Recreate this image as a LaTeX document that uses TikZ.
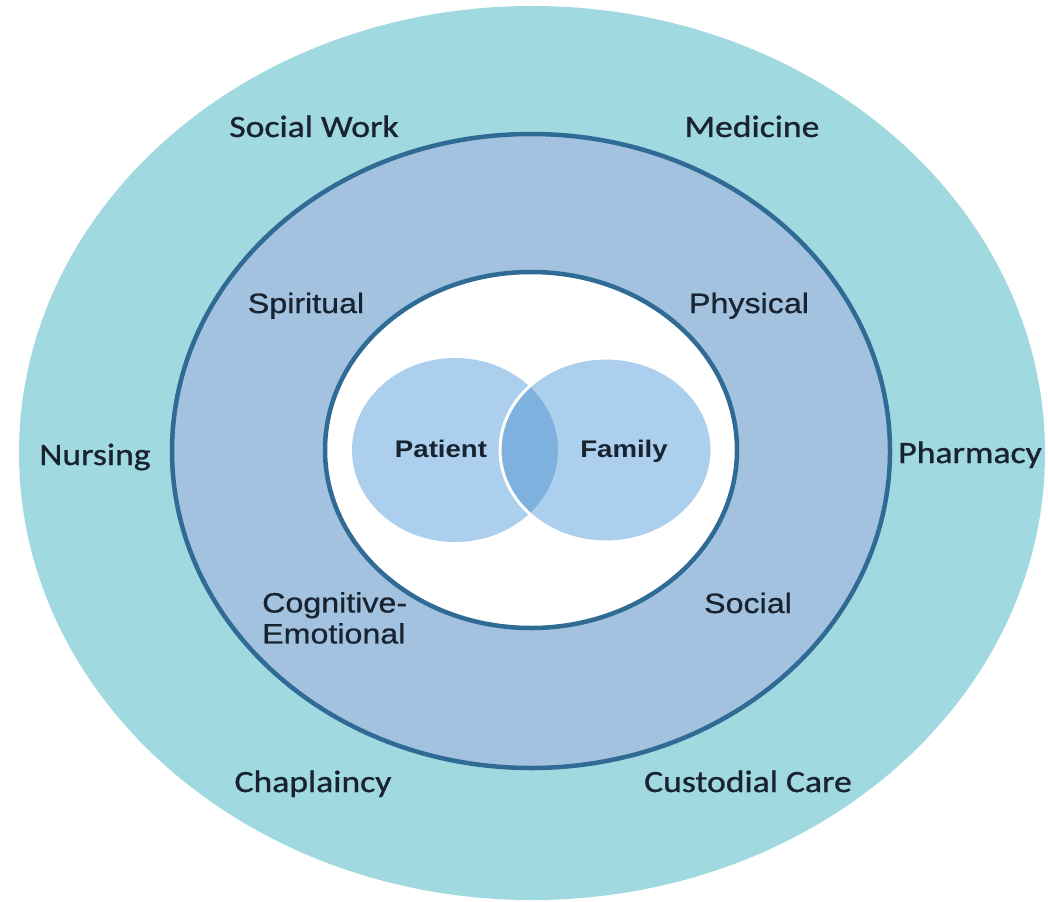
\documentclass[tikz,border=0pt]{standalone}
\usepackage{fontspec}
\newfontfamily\ringfont[FakeStretch=1.15, FakeBold=0.9]{Carlito}
\newfontfamily\aspectfont[FakeStretch=1.15, FakeBold=0.7]{Liberation Sans}
\newfontfamily\venfont[FakeStretch=1.15]{Liberation Sans}
\definecolor{outerring}{HTML}{A0D9E0}
\definecolor{midring}{HTML}{A3C2DF}
\definecolor{ringline}{HTML}{2F6B95}
\definecolor{vencircle}{HTML}{ABCFEC}
\definecolor{venoverlap}{HTML}{7FB1DE}
\definecolor{labeltext}{HTML}{18232F}
\tikzset{
  ringlabel/.style={anchor=base, inner sep=0pt, text=labeltext, font=\ringfont\fontsize{31}{34}\selectfont},
  aspectlabel/.style={anchor=base, inner sep=0pt, text=labeltext, font=\aspectfont\fontsize{28}{31}\selectfont},
  venlabel/.style={anchor=base, inner sep=0pt, text=labeltext, font=\venfont\bfseries\fontsize{24}{27}\selectfont}
}
\begin{document}
\begin{tikzpicture}[x=1pt, y=-1pt]
                    \useasboundingbox[fill=white] (0,0) rectangle (1048,901);
                    \fill[outerring] (532,453) ellipse [x radius=513, y radius=447];
                    \filldraw[fill=midring, draw=ringline, line width=4.5pt] (531,451) ellipse [x radius=359, y radius=317];
                    \filldraw[fill=white, draw=ringline, line width=4.5pt] (531,450) ellipse [x radius=206, y radius=178];
                    \fill[vencircle] (455,450) ellipse [x radius=103, y radius=92];
                    \fill[vencircle] (606,450) ellipse [x radius=106, y radius=92];
                    \begin{scope}
                        \clip (455,450) ellipse [x radius=103, y radius=92];
                        \fill[venoverlap] (606,450) ellipse [x radius=106, y radius=92];
                    \end{scope}
                    \draw[white, line width=3pt] (606,450) ellipse [x radius=106, y radius=92];
                    \node[ringlabel] (socialwork) at (314,137) {Social Work};
                    \node[ringlabel] (medicine) at (752,137) {Medicine};
                    \node[ringlabel] (nursing) at (95,465) {Nursing};
                    \node[ringlabel] (pharmacy) at (970,463) {Pharmacy};
                    \node[ringlabel] (chaplaincy) at (313,792) {Chaplaincy};
                    \node[ringlabel] (custodial) at (748,792) {Custodial Care};
                    \node[aspectlabel] (spiritual) at (306,313) {Spiritual};
                    \node[aspectlabel] (physical) at (749,313) {Physical};
                    \node[aspectlabel, anchor=north west, align=left] (cognitive) at (262,592) {Cognitive-\\Emotional};
                    \node[aspectlabel] (social) at (748,613) {Social};
                    \node[venlabel] (patient) at (441,457) {Patient};
                    \node[venlabel] (family) at (624,457) {Family};
\end{tikzpicture}
\end{document}
